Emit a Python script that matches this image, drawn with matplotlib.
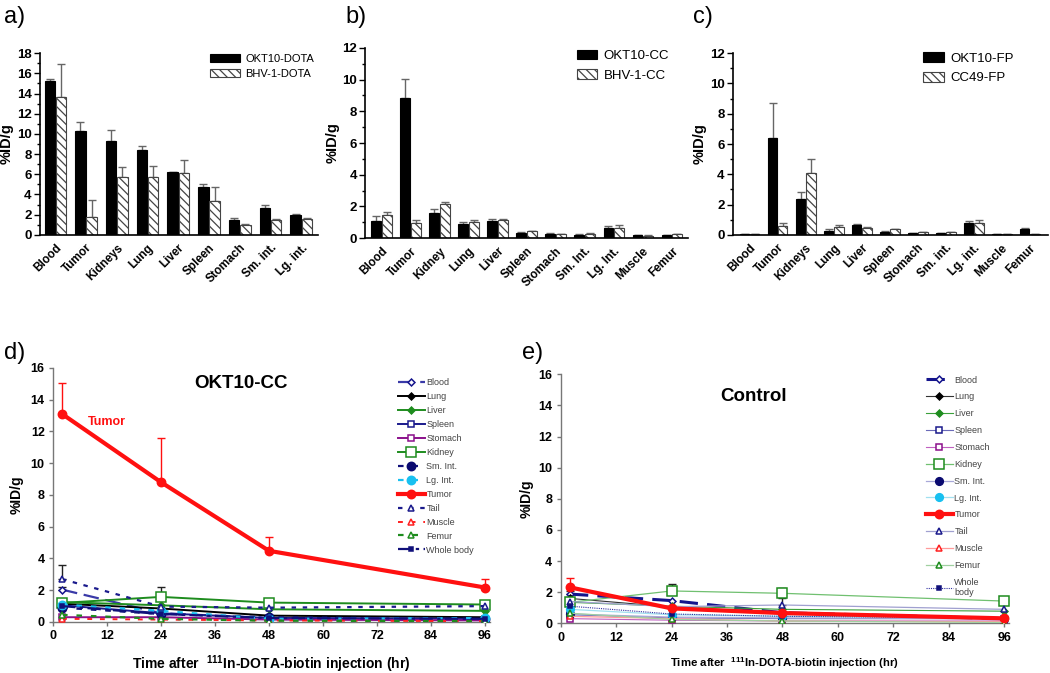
import matplotlib
matplotlib.use("Agg")
import matplotlib.pyplot as plt
import numpy as np
from matplotlib.ticker import MultipleLocator

plt.rcParams['font.family'] = ['Liberation Sans', 'DejaVu Sans']
plt.rcParams['mathtext.fontset'] = 'custom'
plt.rcParams['mathtext.rm'] = 'Liberation Sans'
plt.rcParams['mathtext.bf'] = 'Liberation Sans:bold'
plt.rcParams['hatch.linewidth'] = 0.9
plt.rcParams['hatch.color'] = '#444444'

# ---- panel a ----
organs_a = ["Blood", "Tumor", "Kidneys", "Lung", "Liver", "Spleen", "Stomach", "Sm. int.", "Lg. int."]
okt10_dota = [15.2, 10.3, 9.25, 8.4, 6.2, 4.7, 1.45, 2.67, 2.0]
okt10_dota_err = [0.2, 0.9, 1.15, 0.4, 0.05, 0.3, 0.2, 0.27, 0.03]
bhv1_dota = [13.7, 1.8, 5.7, 5.7, 6.1, 3.4, 1.0, 1.5, 1.55]
bhv1_dota_err = [3.2, 1.7, 1.05, 1.1, 1.3, 1.3, 0.05, 0.1, 0.15]

# ---- panel b ----
organs_b = ["Blood", "Tumor", "Kidney", "Lung", "Liver", "Spleen", "Stomach", "Sm. Int.", "Lg. Int.", "Muscle", "Femur"]
okt10_cc = [1.1, 8.85, 1.6, 0.88, 1.1, 0.34, 0.27, 0.23, 0.67, 0.19, 0.19]
okt10_cc_err = [0.3, 1.2, 0.25, 0.12, 0.1, 0.04, 0.03, 0.02, 0.13, 0.02, 0.02]
bhv1_cc = [1.47, 0.94, 2.14, 1.05, 1.15, 0.44, 0.25, 0.27, 0.67, 0.17, 0.25]
bhv1_cc_err = [0.2, 0.2, 0.12, 0.08, 0.09, 0.03, 0.03, 0.03, 0.19, 0.02, 0.03]

# ---- panel c ----
organs_c = ["Blood", "Tumor", "Kidneys", "Lung", "Liver", "Spleen", "Stomach", "Sm. int.", "Lg. int.", "Muscle", "Femur"]
okt10_fp = [0.03, 6.4, 2.35, 0.28, 0.66, 0.22, 0.13, 0.11, 0.77, 0.03, 0.37]
okt10_fp_err = [0, 2.28, 0.48, 0.11, 0.04, 0.02, 0.02, 0.02, 0.15, 0, 0.11]
cc49_fp = [0.03, 0.59, 4.06, 0.55, 0.46, 0.39, 0.2, 0.17, 0.81, 0.03, 0.03]
cc49_fp_err = [0, 0.22, 0.96, 0.13, 0.09, 0.02, 0.02, 0.02, 0.19, 0, 0]

# ---- panels d / e (time course) ----
times = [2, 24, 48, 96]
tissues = ["Blood", "Lung", "Liver", "Spleen", "Stomach", "Kidney", "Sm. Int.", "Lg. Int.",
           "Tumor", "Tail", "Muscle", "Femur", "Whole body"]

okt_vals = {
    "Blood":      [2.04, 0.55, 0.25, 0.15],
    "Lung":       [1.15, 0.85, 0.40, 0.30],
    "Liver":      [1.25, 1.05, 0.80, 0.70],
    "Spleen":     [1.05, 0.55, 0.25, 0.20],
    "Stomach":    [0.30, 0.30, 0.15, 0.10],
    "Kidney":     [1.20, 1.58, 1.22, 1.10],
    "Sm. Int.":   [0.90, 0.50, 0.30, 0.20],
    "Lg. Int.":   [1.10, 0.70, 0.20, 0.25],
    "Tumor":      [13.1, 8.8, 4.48, 2.17],
    "Tail":       [2.70, 0.97, 0.90, 1.00],
    "Muscle":     [0.20, 0.15, 0.10, 0.05],
    "Femur":      [0.45, 0.20, 0.08, 0.05],
    "Whole body": [1.00, 0.50, 0.25, 0.20],
}
okt_errs = {
    "Tumor":  [1.95, 2.8, 0.9, 0.55],
    "Tail":   [0.9, 0, 0, 0],
    "Blood":  [0.18, 0, 0, 0],
    "Kidney": [0, 0.6, 0, 0],
    "Lg. Int.": [0.35, 0, 0, 0],
}

ctrl_vals = {
    "Blood":      [1.88, 1.46, 0.68, 0.30],
    "Lung":       [1.60, 1.05, 0.70, 0.35],
    "Liver":      [1.35, 1.10, 0.90, 0.78],
    "Spleen":     [0.55, 0.35, 0.30, 0.30],
    "Stomach":    [0.30, 0.20, 0.15, 0.15],
    "Kidney":     [1.35, 2.08, 1.93, 1.43],
    "Sm. Int.":   [0.60, 0.40, 0.35, 0.30],
    "Lg. Int.":   [0.90, 0.55, 0.45, 0.35],
    "Tumor":      [2.31, 0.96, 0.66, 0.32],
    "Tail":       [1.40, 1.07, 1.18, 0.90],
    "Muscle":     [0.45, 0.30, 0.15, 0.10],
    "Femur":      [0.65, 0.25, 0.15, 0.05],
    "Whole body": [1.10, 0.60, 0.45, 0.35],
}
ctrl_errs = {
    "Tumor":  [0.62, 0, 0, 0],
    "Kidney": [0, 0.42, 0.37, 0],
    "Tail":   [0, 0, 0.42, 0],
    "Blood":  [0.2, 0, 0, 0],
}

# style: color, linestyle, linewidth, marker, filled, markersize
okt_style = {
    "Blood":      ("#3a3aa8", (0, (7, 3)), 1.6, "D", False, 3.5),
    "Lung":       ("#000000", "-", 1.4, "D", True, 3.5),
    "Liver":      ("#1e8c1e", "-", 1.4, "D", True, 3.5),
    "Spleen":     ("#1a1a8c", "-", 1.4, "s", False, 5),
    "Stomach":    ("#8b108b", "-", 1.4, "s", False, 5),
    "Kidney":     ("#1e8c1e", "-", 1.4, "s", False, 7),
    "Sm. Int.":   ("#10107a", (0, (2.5, 4)), 1.6, "o", True, 6),
    "Lg. Int.":   ("#18c0f0", (0, (2.5, 4)), 1.6, "o", True, 6),
    "Tumor":      ("#ff1010", "-", 3.0, "o", True, 6),
    "Tail":       ("#1a1a8c", (0, (2, 3)), 1.6, "^", False, 5),
    "Muscle":     ("#ff2020", (0, (2.5, 4)), 1.4, "^", False, 5),
    "Femur":      ("#1e8c1e", (0, (2.5, 4)), 1.6, "^", False, 5),
    "Whole body": ("#10107a", (0, (6, 2, 1.5, 2)), 1.6, "s", True, 3),
}
ctrl_style = {
    "Blood":      ("#14148c", (0, (6, 3)), 2.2, "D", False, 3.5),
    "Lung":       ("#333333", "-", 0.8, "D", True, 3.5),
    "Liver":      ("#3aa03a", "-", 0.8, "D", True, 3.5),
    "Spleen":     ("#6a6ab8", "-", 0.8, "s", False, 5),
    "Stomach":    ("#c060c0", "-", 0.8, "s", False, 5),
    "Kidney":     ("#70c070", "-", 0.9, "s", False, 7),
    "Sm. Int.":   ("#a8a8d8", "-", 0.9, "o", True, 5.5),
    "Lg. Int.":   ("#a0e0f0", "-", 0.9, "o", True, 5.5),
    "Tumor":      ("#ff1010", "-", 3.0, "o", True, 6),
    "Tail":       ("#a0a0d0", "-", 0.9, "^", False, 5),
    "Muscle":     ("#ff9a9a", "-", 0.9, "^", False, 5),
    "Femur":      ("#a0d0a0", "-", 0.9, "^", False, 5),
    "Whole body": ("#3030a0", (0, (1, 1)), 0.8, "s", True, 3),
}
marker_colors = {
    "Blood": "#14148c", "Lung": "#000000", "Liver": "#1e8c1e", "Spleen": "#1a1a8c",
    "Stomach": "#8b108b", "Kidney": "#1e8c1e", "Sm. Int.": "#0a0a70", "Lg. Int.": "#18c0f0",
    "Tumor": "#ff1010", "Tail": "#1a1a8c", "Muscle": "#ff2020", "Femur": "#1e8c1e",
    "Whole body": "#10107a",
}

fig = plt.figure(figsize=(10.5, 6.73), dpi=100)


def bar_panel(rect, cats, v1, e1, v2, e2, labels, ymax, xlim, leg_anchor, hlen, lfs, lsp):
    ax = fig.add_axes(rect)
    x = np.arange(len(cats))
    w = 0.34
    ax.bar(x - 0.18, v1, w, color="black", edgecolor="black", linewidth=0.8, label=labels[0], zorder=2)
    ax.bar(x + 0.18, v2, w, color="white", edgecolor="#444444", linewidth=0.8, hatch="\\\\\\\\",
           label=labels[1], zorder=2)
    ax.errorbar(x - 0.18, v1, yerr=[np.zeros(len(v1)), e1], fmt="none", ecolor="#666666",
                elinewidth=1, capsize=3, capthick=1, zorder=1)
    ax.errorbar(x + 0.18, v2, yerr=[np.zeros(len(v2)), e2], fmt="none", ecolor="#666666",
                elinewidth=1, capsize=3, capthick=1, zorder=1)
    ax.set_ylim(0, ymax)
    ax.set_xlim(*xlim)
    ax.yaxis.set_major_locator(MultipleLocator(2))
    ax.yaxis.set_minor_locator(MultipleLocator(1))
    ax.set_xticks(x)
    ax.set_xticklabels(cats, rotation=45, ha="right", rotation_mode="anchor", fontsize=8.5, fontweight="bold")
    for t in ax.get_yticklabels():
        t.set_fontweight("bold")
        t.set_fontsize(9.5)
    ax.tick_params(axis="x", length=0, pad=5)
    ax.tick_params(axis="y", which="major", length=4, width=1, pad=2)
    ax.tick_params(axis="y", which="minor", length=2.5, width=1)
    for s in ["top", "right"]:
        ax.spines[s].set_visible(False)
    for s in ["left", "bottom"]:
        ax.spines[s].set_linewidth(1.2)
    ax.set_ylabel("%ID/g", fontsize=10.5, fontweight="bold", labelpad=2)
    ax.legend(loc="upper left", bbox_to_anchor=leg_anchor, frameon=False, fontsize=lfs,
              handlelength=hlen, handleheight=0.75, borderpad=0, borderaxespad=0,
              labelspacing=lsp, handletextpad=0.5)
    return ax


bar_panel([0.038, 0.651, 0.265, 0.270], organs_a, okt10_dota, okt10_dota_err, bhv1_dota, bhv1_dota_err,
          ["OKT10-DOTA", "BHV-1-DOTA"], 18, (-0.5, 8.55), (0.61, 0.995), 2.7, 8, 0.4)
bar_panel([0.348, 0.646, 0.307, 0.283], organs_b, okt10_cc, okt10_cc_err, bhv1_cc, bhv1_cc_err,
          ["OKT10-CC", "BHV-1-CC"], 12, (-0.55, 10.55), (0.655, 0.99), 1.55, 9.5, 0.55)
bar_panel([0.698, 0.651, 0.300, 0.270], organs_c, okt10_fp, okt10_fp_err, cc49_fp, cc49_fp_err,
          ["OKT10-FP", "CC49-FP"], 12, (-0.6, 10.65), (0.605, 1.005), 1.55, 9.5, 0.55)


def time_panel(rect, vals, errs, styles, title, title_xy, leg_anchor, lspace, xfs, names, ylpad):
    ax = fig.add_axes(rect)
    for name in tissues:
        col, ls, lw, mk, filled, ms = styles[name]
        mc = marker_colors[name]
        z = 4 if name == "Tumor" else 3
        ax.plot(times, vals[name], color=col, linestyle=ls, linewidth=lw, marker=mk,
                markersize=ms, markerfacecolor=mc if filled else "white", markeredgecolor=mc,
                markeredgewidth=1.1, label=names.get(name, name), zorder=z)
        if name in errs:
            e = np.array(errs[name])
            keep = e > 0
            ecol = "#ff1010" if name == "Tumor" else "#222222"
            ax.errorbar(np.array(times)[keep], np.array(vals[name])[keep],
                        yerr=[np.zeros(keep.sum()), e[keep]], fmt="none", ecolor=ecol,
                        elinewidth=1, capsize=3, capthick=1, zorder=z - 0.5)
    ax.set_xlim(0, 97)
    ax.set_ylim(0, 16)
    ax.set_xticks(range(0, 97, 12))
    ax.set_yticks(range(0, 17, 2))
    for t in ax.get_xticklabels() + ax.get_yticklabels():
        t.set_fontweight("bold")
        t.set_fontsize(9)
    ax.tick_params(length=3, width=1, color="#777777", pad=3)
    for s in ["top", "right"]:
        ax.spines[s].set_visible(False)
    for s in ["left", "bottom"]:
        ax.spines[s].set_color("#777777")
        ax.spines[s].set_linewidth(1)
    ax.set_ylabel("%ID/g", fontsize=10, fontweight="bold", labelpad=ylpad)
    ax.set_xlabel("Time after  $^{\\mathbf{111}}$In-DOTA-biotin injection (hr)", fontsize=xfs,
                  fontweight="bold", labelpad=8)
    ax.text(title_xy[0], title_xy[1], title, transform=ax.transAxes, ha="center", va="center",
            fontsize=13.5, fontweight="bold")
    leg = ax.legend(loc="upper left", bbox_to_anchor=leg_anchor, frameon=False, fontsize=6.5,
                    handlelength=3.0, borderpad=0, borderaxespad=0, labelspacing=lspace,
                    handletextpad=0.15, numpoints=1)
    for t in leg.get_texts():
        t.set_color("#444444")
    return ax


axd = time_panel([0.0505, 0.0758, 0.4157, 0.3776], okt_vals, okt_errs, okt_style, "OKT10-CC",
                 (0.43, 0.94), (0.79, 0.96), 0.55, 10, {}, 5)
axd.text(12, 12.6, "Tumor", color="#ff1010", fontsize=9, fontweight="bold", ha="center", va="center")

time_panel([0.534, 0.0738, 0.4268, 0.370], ctrl_vals, ctrl_errs, ctrl_style, "Control",
           (0.43, 0.91), (0.815, 0.995), 0.87, 8.2, {"Whole body": "Whole\nbody"}, 3)

for lab, x, y in [("a)", 0.004, 0.975), ("b)", 0.329, 0.975), ("c)", 0.660, 0.975),
                  ("d)", 0.004, 0.475), ("e)", 0.497, 0.475)]:
    fig.text(x, y, lab, fontsize=17, ha="left", va="center")

fig.savefig("out.png", dpi=100)
